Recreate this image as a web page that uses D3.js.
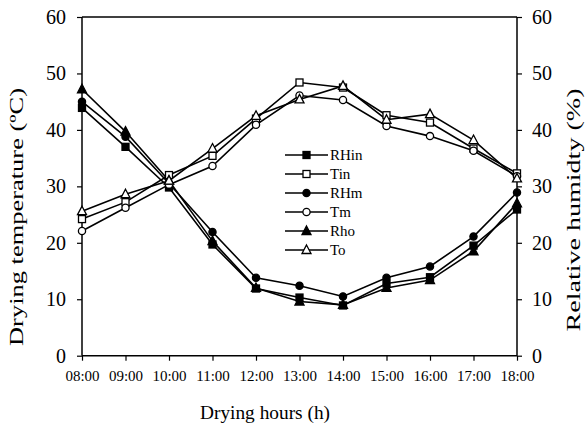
<!DOCTYPE html>
<html><head><meta charset="utf-8">
<script src="https://cdn.jsdelivr.net/npm/d3@7/dist/d3.min.js"></script>
<style>body{margin:0;background:#fff}svg{display:block}text{font-family:"Liberation Serif","Times New Roman",serif;fill:#000}</style>
</head><body><svg id="c" width="587" height="428"></svg>
<script>
const hours = ["08:00","09:00","10:00","11:00","12:00","13:00","14:00","15:00","16:00","17:00","18:00"];
const RHin = [43.9,37.0,29.8,19.7,11.9,10.3,8.9,12.8,13.9,19.5,25.9];
const Tin  = [24.2,27.2,32.0,35.4,42.0,48.4,47.5,42.6,41.3,36.7,32.3];
const RHm  = [45.0,38.8,30.5,21.9,13.8,12.4,10.5,13.8,15.8,21.1,28.9];
const Tm   = [22.1,26.2,30.3,33.6,40.9,46.1,45.3,40.7,38.9,36.3,31.8];
const Rho  = [47.2,39.7,31.0,20.3,12.0,9.6,9.0,12.0,13.4,18.5,27.0];
const To   = [25.6,28.6,31.0,36.7,42.5,45.4,47.8,41.8,42.8,38.2,31.4];
const yTicks = [0,10,20,30,40,50,60];
const seriesNames = ["RHin","Tin","RHm","Tm","Rho","To"];
const seriesData = [RHin,Tin,RHm,Tm,Rho,To];
const markerShape = ["square","square","circle","circle","triangle","triangle"];
const markerFilled = [true,false,true,false,true,false];

const svg = d3.select("#c");
const L=82, R=517, T=17, B=355.7;
const x = d3.scalePoint().domain(hours).range([L,R]);
const y = d3.scaleLinear().domain([0,60]).range([B,T]);

svg.append("line").attr("x1",L).attr("x2",R).attr("y1",T).attr("y2",T).attr("stroke","#000").attr("stroke-width",1.5);

const gl = svg.append("g").attr("transform",`translate(${L},0)`).call(d3.axisLeft(y).tickValues(yTicks).tickSize(5).tickPadding(11));
const gr = svg.append("g").attr("transform",`translate(${R},0)`).call(d3.axisRight(y).tickValues(yTicks).tickSize(5).tickPadding(10));
const gb = svg.append("g").attr("transform",`translate(0,${B})`).call(d3.axisBottom(x).tickSize(5).tickPadding(9.5));
[gl,gr,gb].forEach(g=>{
  g.select(".domain").attr("stroke","#000").attr("stroke-width",1.5);
  g.selectAll(".tick line").attr("stroke","#000").attr("stroke-width",1.2);
  g.selectAll("text").style("font-family","'Liberation Serif',serif").attr("fill","#000");
});
gl.selectAll("text").style("font-size","20px");
gr.selectAll("text").style("font-size","20px");
gb.selectAll("text").style("font-size","15px");
gl.select(".domain").attr("d",`M0,${B}V${T}`);
gr.select(".domain").attr("d",`M0,${B}V${T}`);
gb.select(".domain").attr("d",`M${L},0H${R}`);

function drawMarker(g, shape, filled, cx, cy){
  const fill = filled ? "#000" : "#fff";
  if(shape==="square"){
    g.append("rect").attr("x",cx-3.5).attr("y",cy-3.5).attr("width",7).attr("height",7)
      .attr("fill",fill).attr("stroke","#000").attr("stroke-width",1.3);
  } else if(shape==="circle"){
    g.append("circle").attr("cx",cx).attr("cy",cy).attr("r",3.6)
      .attr("fill",fill).attr("stroke","#000").attr("stroke-width",1.3);
  } else {
    g.append("path").attr("d",`M${cx},${cy-5}L${cx+4.5},${cy+3.5}L${cx-4.5},${cy+3.5}Z`)
      .attr("fill",fill).attr("stroke","#000").attr("stroke-width",1.3);
  }
}

const line = d3.line().x((d,i)=>x(hours[i])).y(d=>y(d));
const plotG = svg.append("g");
seriesData.forEach((s,k)=>{
  plotG.append("path").datum(s).attr("d",line).attr("fill","none").attr("stroke","#000").attr("stroke-width",1.6);
});
seriesData.forEach((s,k)=>{
  s.forEach((v,i)=>drawMarker(plotG, markerShape[k], markerFilled[k], x(hours[i]), y(v)));
});

const lg = svg.append("g");
seriesNames.forEach((n,k)=>{
  const yy = 155 + k*19;
  lg.append("line").attr("x1",285).attr("x2",328).attr("y1",yy).attr("y2",yy).attr("stroke","#000").attr("stroke-width",1.6);
  drawMarker(lg, markerShape[k], markerFilled[k], 306.5, yy);
  lg.append("text").attr("x",330).attr("y",yy+5).style("font-size","15px").text(n);
});

svg.append("text").attr("transform","translate(23,217) rotate(-90)").attr("text-anchor","middle")
  .attr("textLength",258).attr("lengthAdjust","spacingAndGlyphs").style("font-size","19.5px").text("Drying temperature (ºC)");
svg.append("text").attr("transform","translate(580,210) rotate(-90)").attr("text-anchor","middle")
  .attr("textLength",243).attr("lengthAdjust","spacingAndGlyphs").style("font-size","19.5px").text("Relative humidty (%)");
svg.append("text").attr("x",265).attr("y",419).attr("text-anchor","middle")
  .attr("textLength",130).attr("lengthAdjust","spacingAndGlyphs").style("font-size","19px").text("Drying hours (h)");
</script></body></html>
